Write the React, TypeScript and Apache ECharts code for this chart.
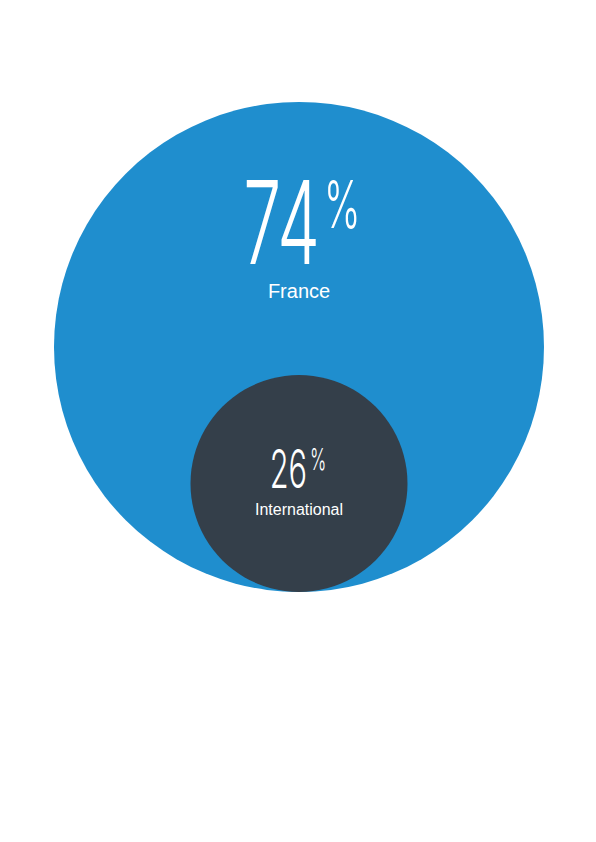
import { useEffect, useRef } from 'react';
import * as echarts from 'echarts';

// Share of participants by origin
const categories = ['France', 'International'];
const shares = [74, 26];
const percentSign = '%';

const COLORS = ['#1F8ECE', '#343F4A'];
const RADIUS_RANGE = [108.5, 245];
const BOTTOM_Y = 592;
const CENTER_X = 299;
const NUM_FONT = 'Inter, Roboto, sans-serif';
const NAME_FONT = '"Liberation Sans", Arial, sans-serif';

// Label placement inside each circle, offsets relative to the circle centre
const LABEL_LAYOUT = [
  { numSize: 115, numRight: 21, numY: -124, pctSize: 66, pctGap: 4, pctY: -143, nameSize: 20, nameY: -56, squeeze: 0.59 },
  { numSize: 53, numRight: 8, numY: -15.5, pctSize: 30, pctGap: 3, pctY: -24.5, nameSize: 16, nameY: 25.5, squeeze: 0.58 },
];

export default function App() {
  const ref = useRef<HTMLDivElement>(null);

  useEffect(() => {
    if (!ref.current) return;
    const chart = echarts.init(ref.current, undefined, { renderer: 'svg' });
    const lo = Math.min(...shares);
    const hi = Math.max(...shares);

    chart.setOption({
      animation: false,
      series: [
        {
          type: 'custom',
          coordinateSystem: 'none',
          data: shares.map((v, i) => ({ name: categories[i], value: [v, i] })),
          renderItem: (params: any, api: any) => {
            const i = params.dataIndex;
            const v = api.value(0) as number;
            const r = echarts.number.linearMap(v, [lo, hi], RADIUS_RANGE, true);
            const cx = CENTER_X;
            const cy = BOTTOM_Y - r;
            const L = LABEL_LAYOUT[i];
            return {
              type: 'group',
              children: [
                {
                  type: 'circle',
                  shape: { cx, cy, r },
                  style: { fill: COLORS[i] },
                },
                {
                  type: 'text',
                  x: cx + L.numRight,
                  y: cy + L.numY,
                  scaleX: L.squeeze,
                  style: {
                    text: String(v),
                    fill: '#fff',
                    fontFamily: NUM_FONT,
                    fontWeight: 300,
                    fontSize: L.numSize,
                    align: 'right',
                    verticalAlign: 'middle',
                  },
                },
                {
                  type: 'text',
                  x: cx + L.numRight + L.pctGap,
                  y: cy + L.pctY,
                  scaleX: L.squeeze,
                  style: {
                    text: percentSign,
                    fill: '#fff',
                    fontFamily: NUM_FONT,
                    fontWeight: 300,
                    fontSize: L.pctSize,
                    align: 'left',
                    verticalAlign: 'middle',
                  },
                },
                {
                  type: 'text',
                  x: cx,
                  y: cy + L.nameY,
                  style: {
                    text: categories[i],
                    fill: '#fff',
                    fontFamily: NAME_FONT,
                    fontSize: L.nameSize,
                    align: 'center',
                    verticalAlign: 'middle',
                  },
                },
              ],
            };
          },
        },
      ],
    });

    return () => chart.dispose();
  }, []);

  return (
    <div
      ref={ref}
      style={{ position: 'absolute', left: 0, top: 0, width: 596, height: 842, background: '#fff' }}
    />
  );
}
